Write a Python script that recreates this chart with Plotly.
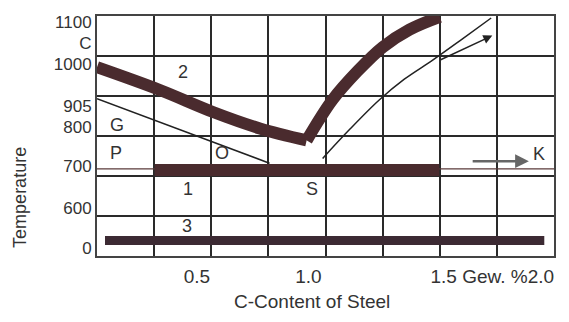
import plotly.graph_objects as go

# ---- data (diagram units: x = grid columns 0..8, y = grid rows 0..6) ----
x_tick_pos = [1.75, 3.70, 6.92]
x_tick_text = ["0.5", "1.0", "1.5 Gew. %2.0"]
y_tick_pos = [5.85, 5.33, 4.81, 3.75, 3.23, 2.25, 1.19, 0.2]
y_tick_text = ["1100", "C", "1000", "905", "800", "700", "600", "0"]
grid_cols = [0, 1, 2, 3, 4, 5, 6, 7, 8]
grid_rows = [0, 1, 2, 3, 4, 5, 6]

# thick boundary G-S (left branch) and S-E (right branch), austenite region "2"
gs_x = [0.0, 1.10, 2.03, 2.85, 3.67]
gs_y = [4.72, 4.15, 3.60, 3.19, 2.89]
se_thick_x = [3.67, 4.12, 4.56, 5.00, 5.47, 6.00]
se_thick_y = [2.89, 3.90, 4.62, 5.22, 5.66, 5.98]

# thin line G-O-S
gos_x = [0.0, 3.02]
gos_y = [3.93, 2.32]

# thin line S-E
se_x = [3.95, 4.42, 4.94, 5.38, 5.87, 6.38, 6.90]
se_y = [2.44, 3.16, 3.90, 4.42, 4.89, 5.41, 5.95]

# arrow branch
arr_x = [5.99, 6.92]
arr_y = [4.89, 5.51]

# P-S-K line (723 C)
psk_thin_x = [0.0, 8.0]
psk_thin_y = [2.18, 2.18]
psk_x = [1.01, 5.99]
psk_y = [2.15, 2.15]

# K arrow
k_x = [6.55, 7.56]
k_y = [2.37, 2.37]

# bottom bar (region 3)
bot_x = [0.14, 7.83]
bot_y = [0.39, 0.39]

labels = ["2", "G", "P", "O", "1", "S", "3", "K"]
label_x = [1.50, 0.35, 0.33, 2.18, 1.59, 3.77, 1.57, 7.74]
label_y = [4.59, 3.28, 2.57, 2.57, 1.68, 1.68, 0.74, 2.54]

dark = "#4a2b2e"
ink = "#333333"
FONT = "Liberation Sans"

fig = go.Figure()
fig.add_trace(go.Scatter(x=psk_thin_x, y=psk_thin_y, mode="lines",
                         line=dict(color="#5a3a3a", width=1.2), hoverinfo="skip"))
fig.add_trace(go.Scatter(x=psk_x, y=psk_y, mode="lines",
                         line=dict(color=dark, width=12), hoverinfo="skip"))
fig.add_trace(go.Scatter(x=bot_x, y=bot_y, mode="lines",
                         line=dict(color="#3c2a33", width=9), hoverinfo="skip"))
fig.add_trace(go.Scatter(x=gos_x, y=gos_y, mode="lines",
                         line=dict(color="#222", width=1.5), hoverinfo="skip"))
fig.add_trace(go.Scatter(x=se_x, y=se_y, mode="lines", line_shape="spline",
                         line=dict(color="#222", width=1.5), hoverinfo="skip"))
fig.add_trace(go.Scatter(x=gs_x, y=gs_y, mode="lines", line_shape="spline",
                         line=dict(color=dark, width=12), hoverinfo="skip"))
fig.add_trace(go.Scatter(x=se_thick_x, y=se_thick_y, mode="lines", line_shape="spline",
                         line=dict(color=dark, width=12), hoverinfo="skip"))

fig.add_annotation(x=arr_x[1], y=arr_y[1], ax=arr_x[0], ay=arr_y[0],
                   xref="x", yref="y", axref="x", ayref="y", text="",
                   showarrow=True, arrowhead=2, arrowsize=1.2, arrowwidth=1.5,
                   arrowcolor="#222")
fig.add_annotation(x=k_x[1], y=k_y[1], ax=k_x[0], ay=k_y[0],
                   xref="x", yref="y", axref="x", ayref="y", text="",
                   showarrow=True, arrowhead=2, arrowsize=1.1, arrowwidth=2.5,
                   arrowcolor="#666")

for t, lx, ly in zip(labels, label_x, label_y):
    fig.add_annotation(x=lx, y=ly, text=t, showarrow=False,
                       font=dict(size=18, color=ink, family=FONT))

# page body has an 8px margin: figure is drawn offset by (8, 8)
OFF = 8
W, H = 569 - 2 * OFF, 322 - 2 * OFF
L, R, T, B = 97 - OFF, 14 - OFF, 13 - OFF, 66 - OFF
pw, ph = W - L - R, H - T - B


def paper_xy(px, py):
    # px, py are window pixel positions
    return (px - OFF - L) / pw, (H - B - (py - OFF)) / ph


tx, ty = paper_xy(20, 197)
fig.add_annotation(x=tx, y=ty, xref="paper", yref="paper", text="Temperature",
                   showarrow=False, textangle=-90, xanchor="center", yanchor="middle",
                   font=dict(size=18, color=ink, family=FONT))
cx, cy = paper_xy(312, 302)
fig.add_annotation(x=cx, y=cy, xref="paper", yref="paper", text="C-Content of Steel",
                   showarrow=False, xanchor="center", yanchor="middle",
                   font=dict(size=19, color=ink, family=FONT))

fig.update_layout(
    width=W, height=H,
    margin=dict(l=L, r=R, t=T, b=B),
    paper_bgcolor="white", plot_bgcolor="white",
    showlegend=False,
    font=dict(family=FONT, size=17, color=ink),
)
fig.update_xaxes(range=[0, 8], showgrid=False, zeroline=False,
                 tickvals=x_tick_pos, ticktext=x_tick_text, ticks="",
                 tickfont=dict(size=19, color=ink), ticklabelstandoff=2,
                 showline=True, mirror=True, linecolor="#444", linewidth=2,
                 minor=dict(tickvals=grid_cols, showgrid=True, gridcolor="#2a2a2a",
                            gridwidth=1.6, ticks=""))
fig.update_yaxes(range=[0, 6], showgrid=False, zeroline=False,
                 tickvals=y_tick_pos, ticktext=y_tick_text, ticks="",
                 tickfont=dict(size=17, color=ink), ticklabelstandoff=0,
                 showline=True, mirror=True, linecolor="#444", linewidth=2,
                 minor=dict(tickvals=grid_rows, showgrid=True, gridcolor="#2a2a2a",
                            gridwidth=1.6, ticks=""))

fig.write_html("out.html")
